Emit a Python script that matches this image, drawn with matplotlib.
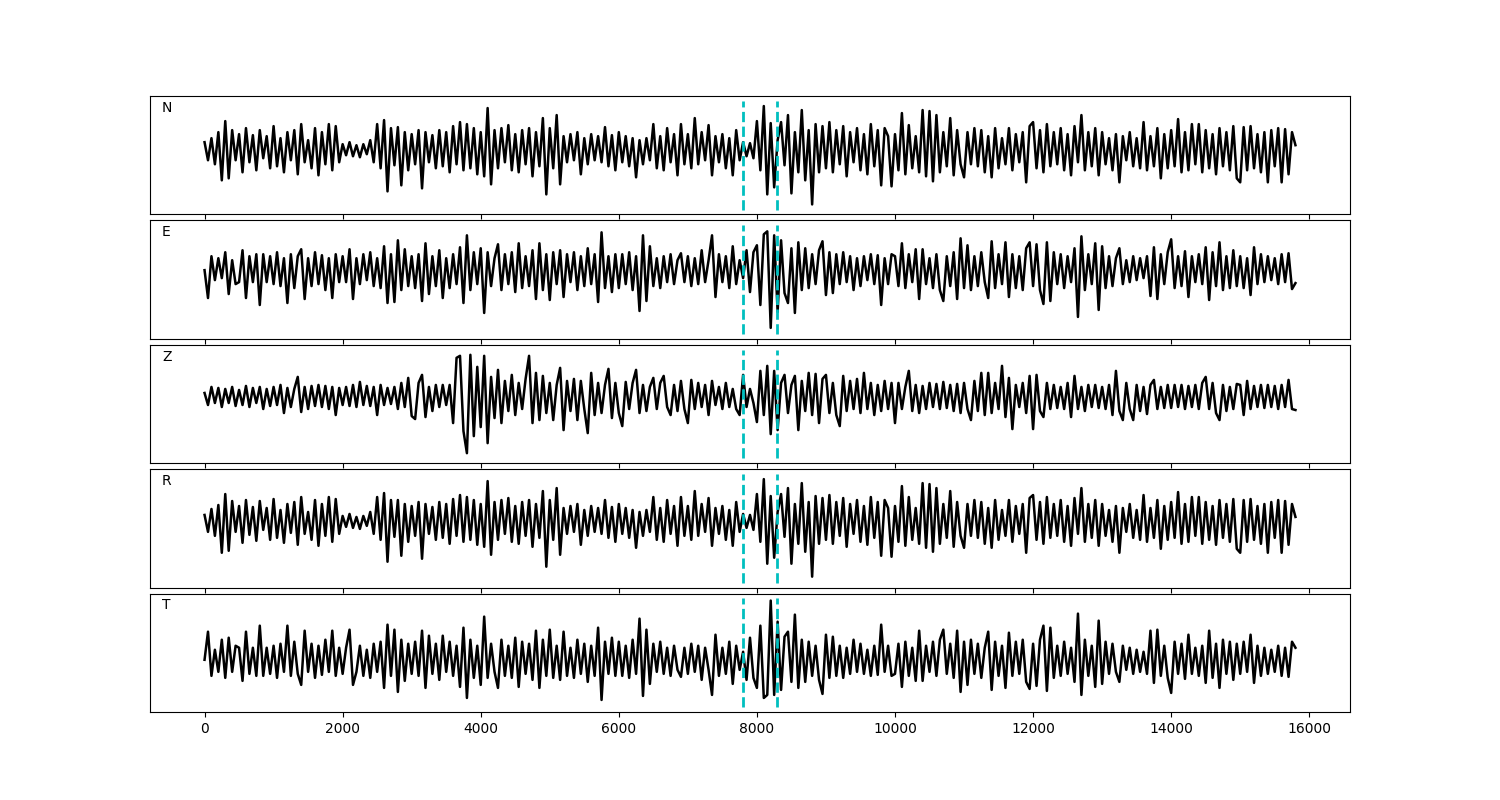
import numpy as np
import matplotlib
matplotlib.use("Agg")
import matplotlib.pyplot as plt

# sample spacing of the traces (samples)
dt = 50

# trace amplitudes, one value per 50 samples
n_amp = [8, -10, 12, -14, 18, -30, 29, -28, 20, -10, 16, -22, 22, -12, 15, -20, 20, -8, 14, -18,
         24, -16, 12, -22, 18, -10, 20, -24, 26, -12, 10, -18, 22, -25, 18, -14, 26, -20, 24, -12,
         6, -5, 8, -6, 5, -7, 6, -4, 10, -12, 26, -18, 30, -41, 22, -15, 23, -35, 18, -20,
         16, -14, 20, -38, 18, -12, 15, -18, 20, -16, 18, -22, 24, -14, 28, -20, 26, -18, 22, -24,
         18, -26, 42, -34, 20, -18, 22, -12, 25, -20, 16, -22, 20, -14, 22, -26, 18, -16, 32, -44,
         22, -18, 35, -34, 14, -12, 16, -10, 18, -24, 12, -14, 16, -10, 14, -12, 23, -16, 15, -20,
         18, -12, 14, -16, 12, -27, 10, -14, 12, -10, 26, -18, 14, -20, 22, -12, 16, -25, 26, -14,
         16, -18, 32, -14, 18, -10, 25, -25, 14, -12, 16, -18, 12, -25, 20, -10, 8, -6, 7, -8,
         29, -20, 44, -44, 27, -37, 10, 28, -15, 35, -43, 18, -22, 40, -30, 20, -54, 26, -22, 24,
         -18, 28, -22, 20, -14, 24, -26, 18, -12, 22, -20, 16, -24, 26, -16, 20, -35, 22, 14, -36,
         16, -20, 37, -24, 25, -18, 14, -22, 40, -26, 39, -31, 35, -22, 18, -16, 32, -25, 20, -14,
         -27, 18, -14, 22, -16, 20, -22, 14, -27, 22, -18, 12, -14, 22, -20, 16, -12, 18, -32, 24,
         28, -18, 20, -22, 26, -16, 18, -14, 22, -20, 16, -25, 24, -12, 35, -20, 18, -16, 22, -25,
         18, -14, 12, -20, 16, -32, 14, -10, 18, -16, 12, -18, 28, -20, 14, -16, 22, -28, 16, -18,
         20, -16, 31, -22, 18, -20, 26, -14, 26, -22, 20, -18, 16, -24, 22, -16, 18, -20, 24, -28,
         -32, 23, -20, 24, -18, 16, -22, 18, -32, 20, -16, 22, -32, 21, -24, 18, 5]

e_amp = [0, -28, 14, -10, 12, -8, 18, -24, 10, -14, -12, 20, -28, 14, -12, 16, -35, 16, -12, 14,
         -14, 18, -16, 12, -33, 16, -18, 14, 21, -29, 12, -16, 18, -14, 15, -20, 12, -28, 16, -12,
         14, -12, 21, -29, 12, -14, 16, -10, 18, -16, 12, -18, 24, -33, 16, -32, 30, -20, 21, -16,
         14, -18, 16, -31, 27, -24, 14, -16, 20, -28, 12, -18, 16, -14, 23, -33, 35, -20, 18, -14,
         22, -43, 18, -16, 12, 26, -20, 16, -14, 18, -22, 27, -18, 14, -16, 20, -29, 27, -20, 16,
         -30, 18, -14, 20, -27, 16, -12, 18, -20, 14, -16, 22, -14, 16, -32, 38, -18, 14, -22, 16,
         -18, 16, -14, 18, -20, 14, -41, 35, -31, 24, -16, 12, -18, 14, -12, 16, -14, 10, 17, -12,
         14, -16, 12, -14, 20, -12, 10, 35, -27, 16, -12, 14, -18, 24, -14, 10, -8, 20, -22, 18,
         25, -35, 36, 39, -58, 35, -42, 30, -23, -33, 22, -43, 28, -20, 22, -18, 16, -14, 20, 29,
         -25, 18, -23, 16, -14, 18, -12, 14, -20, 12, -16, 14, -10, 16, -14, 15, -35, 12, -14, 16,
         14, -16, 27, -18, 16, -12, 21, -29, 21, -14, 12, -18, 16, -20, -31, 14, -16, 18, -29, 32,
         -18, 25, -20, 14, -16, 18, -12, -28, 29, -18, 16, -14, 28, -27, 16, -18, 14, -20, 22, 28,
         -16, 26, -20, -34, 28, -31, 18, -14, 16, -18, 14, -12, 22, -47, 34, -20, 16, -14, 27, -40,
         24, -18, 14, -16, 12, 22, -14, 10, -12, 14, -10, 12, -8, 14, -26, 23, -29, 16, -14, 18,
         31, -18, 14, -16, 19, -27, 14, -12, 16, -14, 23, -30, 18, -16, 28, -20, 14, -18, 20, -16,
         14, -18, 12, -25, 23, -14, 16, -12, 14, -10, 12, -14, 16, -12, 17, -19, -13]

z_amp = [4, -8, 10, -6, 9, -10, 8, -6, 10, -9, 7, -8, 11, -10, 9, -6, 10, -12, 8, -9,
         10, -8, 12, -16, 9, -10, 8, 20, -15, 10, -12, 11, -9, 12, -10, 11, -12, 10, -18, 9,
         -8, 10, -9, 12, -10, 15, -8, 11, -9, 10, -18, 12, -8, 9, -7, 10, -12, 14, -10, 19,
         -19, -22, 14, 22, -20, 10, -14, 12, -10, 12, -8, 12, -26, 39, 41, -34, -56, 42, -39, 30,
         -30, 41, -46, 20, -21, 27, -26, 16, -14, 22, -18, 14, -12, 18, 41, -26, 24, -23, 21, -16,
         14, -23, 12, 29, -33, 16, -14, 18, -23, 16, -12, -36, 24, -18, 14, -16, 12, 28, -21, 14,
         -16, -29, 15, -12, 14, 27, -16, 12, -14, 10, 19, -12, 14, 21, -10, -18, 12, -14, 16, -12,
         -26, 17, -12, 14, -10, 12, -18, 16, -8, 10, -12, 14, -10, 8, -12, -18, 22, -10, 8, -6,
         -25, 26, -18, 31, -37, 26, -33, 14, 22, -16, 12, 21, -33, 16, -14, 24, -18, 23, -26, 18,
         22, -16, 14, -18, -29, 21, -14, 16, -12, 18, -16, 24, -12, 14, -18, 12, -14, 16, -12, 14,
         -26, 14, -12, 10, 26, -14, 12, -16, 11, -12, 14, -10, 13, -12, 15, -11, 12, -14, 13, -16,
         14, -12, -23, 16, -14, 24, -18, 24, -16, 14, -12, 31, -20, 19, -32, 12, -10, 14, -16, 21,
         -32, 22, -14, -20, 14, -12, 12, -11, 10, -12, 14, -20, 21, -12, 10, -14, 12, -10, 12, -11,
         10, -12, 12, -18, 26, -14, -23, 14, -12, -23, 12, -14, 10, -17, 12, 17, -12, 10, -11, 12,
         -11, 12, -10, 12, -12, 11, -10, 12, -12, 14, 20, -12, 14, -16, -23, 12, -14, 10, -12, 13,
         12, -18, 16, -12, 11, -10, 12, -11, 12, -10, 11, -12, 12, -10, 17, -12, -13]

r_amp = [7, -10, 13, -14, 17, -31, 28, -29, 21, -10, 16, -21, 22, -13, 15, -19, 21, -8, 14, -18,
         23, -16, 12, -21, 18, -11, 20, -23, 25, -12, 10, -18, 22, -24, 18, -14, 25, -20, 23, -12,
         6, -5, 8, -6, 5, -7, 6, -4, 10, -12, 25, -18, 29, -40, 22, -15, 22, -34, 18, -20,
         16, -14, 20, -37, 18, -12, 15, -18, 20, -16, 18, -22, 23, -14, 27, -20, 25, -18, 22, -23,
         18, -25, 41, -33, 20, -18, 22, -12, 24, -20, 16, -22, 20, -14, 22, -25, 18, -16, 31, -45,
         22, -18, 34, -33, 14, -12, 16, -10, 18, -23, 12, -14, 16, -10, 14, -12, 22, -16, 15, -20,
         18, -12, 14, -16, 12, -26, 10, -14, 12, -10, 25, -18, 14, -20, 22, -12, 16, -24, 25, -14,
         16, -18, 31, -14, 18, -10, 24, -24, 14, -12, 16, -18, 12, -24, 20, -10, 8, -6, 7, -8,
         28, -20, 43, -42, 26, -36, 10, 28, -15, 34, -42, 18, -22, 39, -30, 20, -55, 26, -22, 24,
         -18, 27, -22, 20, -14, 24, -25, 18, -12, 22, -20, 16, -23, 25, -16, 20, -34, 22, 14, -35,
         16, -20, 36, -24, 25, -18, 14, -22, 39, -26, 38, -30, 34, -22, 18, -16, 31, -25, 20, -14,
         -26, 18, -14, 22, -16, 20, -22, 14, -26, 22, -18, 12, -14, 22, -20, 16, -12, 18, -31, 24,
         27, -18, 20, -22, 25, -16, 18, -14, 22, -20, 16, -24, 24, -12, 34, -20, 18, -16, 22, -24,
         18, -14, 12, -20, 16, -31, 14, -10, 18, -16, 12, -18, 27, -20, 14, -16, 22, -27, 16, -18,
         20, -16, 30, -22, 18, -20, 25, -14, 25, -22, 20, -18, 16, -23, 22, -16, 18, -20, 23, -27,
         -31, 22, -20, 23, -18, 16, -22, 18, -31, 20, -16, 22, -31, 21, -23, 18, 5]

t_amp = [0, 28, -16, 10, -12, 20, -18, 22, -12, 14, 12, -21, 28, -14, 12, -16, 34, -16, 12, -14,
         14, -18, 16, -12, 34, -16, 18, -14, -25, 29, -12, 16, -18, 14, -15, 20, -12, 29, -16, 12,
         -14, 12, 30, -25, -12, 14, -16, 10, -18, 16, -12, 18, -28, 35, -16, 30, -32, 20, -21, 16,
         -14, 18, -16, 29, -28, 24, -14, 16, -20, 24, -12, 18, -16, 14, -27, 32, -38, 20, -18, 14,
         -25, 43, -18, 16, -12, -28, 20, -16, 14, -18, 22, -27, 18, -14, 16, -20, 29, -28, 20, -16,
         30, -18, 14, -20, 28, -16, 12, -18, 20, -14, 16, -22, 14, -16, 32, -40, 18, -14, 22, -16,
         18, -16, 14, -18, 20, -14, 41, -36, 30, -24, 16, -12, 18, -14, 12, -16, 14, -10, -17, 12,
         -14, 16, -12, 14, -20, 12, -10, -35, 25, -16, 12, -14, 18, -24, 14, -10, 8, -20, 22, -18,
         -28, 34, -38, -35, 59, -35, 38, -30, 23, 28, -22, 45, -28, 20, -22, 18, -16, 14, -20, -34,
         25, -18, 23, -16, 14, -18, 12, -14, 20, -12, 16, -14, 10, -16, 14, -15, 35, -12, 14, -16,
         -14, 16, -27, 18, -16, 12, -21, 29, -21, 14, -12, 18, -16, 20, 30, -14, 16, -18, 29, -32,
         18, -25, 20, -14, 16, -18, 12, 28, -30, 18, -16, 14, -28, 27, -16, 18, -14, 20, -22, -29,
         16, -26, 20, 34, -31, 32, -18, 14, -16, 18, -14, 12, -22, 46, -35, 20, -16, 14, -27, 39,
         -24, 18, -14, 16, -12, -22, 14, -10, 12, -14, 10, -12, 8, -14, 29, -23, 30, -16, 14, -18,
         -33, 18, -14, 16, -19, 25, -14, 12, -16, 14, -23, 29, -18, 16, -28, 20, -14, 18, -20, 16,
         -14, 18, -12, 25, -23, 14, -16, 12, -14, 10, -12, 14, -16, 12, -17, 18, 12]

components = ['N', 'E', 'Z', 'R', 'T']
traces = [n_amp, e_amp, z_amp, r_amp, t_amp]
ylims = [(-64, 54), (-69, 50), (-66, 52), (-66, 53), (-52, 66)]

# picks (samples)
picks = [7800, 8290]

fig, axes = plt.subplots(5, 1, figsize=(15, 8), sharex=True)
fig.subplots_adjust(left=0.1, right=0.9, top=0.88, bottom=0.11, hspace=0.05)

for ax, comp, amp, yl in zip(axes, components, traces, ylims):
    x = np.arange(len(amp)) * dt
    ax.plot(x, amp, color='k', lw=1.8)
    for p in picks:
        ax.axvline(p, ymin=0.04, ymax=0.96, color='c', ls='--', lw=2)
    ax.set_ylim(yl)
    ax.set_yticks([])
    ax.text(0.01, 0.9, comp, transform=ax.transAxes, va='center', fontsize=10)

axes[-1].set_xlim(-790, 16590)
axes[-1].set_xticks(np.arange(0, 16001, 2000))

fig.savefig('out.png', dpi=100)
